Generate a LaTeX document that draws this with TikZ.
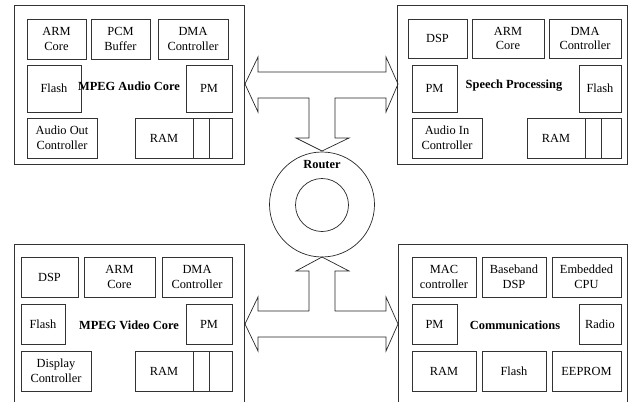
\documentclass[tikz,border=0pt]{standalone}
\usepackage{fontspec}
\setmainfont{Liberation Serif}
\begin{document}
\begin{tikzpicture}[x=1pt,y=-1pt,
  blk/.style={draw=black!80,line width=0.7pt,inner sep=0pt,align=center,
    font=\fontsize{12.4}{14.6}\selectfont},
  lbl/.style={inner sep=0pt,font=\fontsize{12.4}{14.6}\selectfont\bfseries},
  frame/.style={draw=black!80,line width=0.7pt},
  shp/.style={draw=black!85,line width=0.7pt,line join=miter}]
\newcommand\bx[6]{\node[blk,minimum width={(#4-#2)*1pt},minimum height={(#5-#3)*1pt}] (#1) at ({(#2+#4)/2},{(#3+#5)/2}) {#6};}
\useasboundingbox (0,0) rectangle (629,402);
% ---------- top left: MPEG Audio Core
\draw[frame] (14,5) rectangle (244,164);
\bx{tlarm}{27}{19}{86}{59}{ARM\\Core}
\bx{tlpcm}{91}{19}{150}{59}{PCM\\Buffer}
\bx{tldma}{158}{19}{228}{59}{DMA\\Controller}
\bx{tlflash}{27}{65}{81}{112}{Flash}
\bx{tlpm}{186}{65}{232}{112}{PM}
\node[lbl] (tllbl) at (129,86) {MPEG Audio Core};
\bx{tlaudio}{27}{118}{97}{158}{Audio Out\\Controller}
\bx{tlramA}{135}{118}{193}{158}{RAM}
\bx{tlramB}{193}{118}{209}{158}{}
\bx{tlramC}{209}{118}{232}{158}{}
% ---------- top right: Speech Processing
\draw[frame] (397,5) rectangle (627,164);
\bx{trdsp}{408}{19}{467}{58}{DSP}
\bx{trarm}{472}{19}{544}{58}{ARM\\Core}
\bx{trdma}{549}{19}{621}{58}{DMA\\Controller}
\bx{trpm}{412}{65}{457}{112}{PM}
\bx{trflash}{579}{65}{621}{112}{Flash}
\node[lbl] (trlbl) at (514,86) {Speech Processing};
\bx{traudio}{412}{118}{482}{158}{Audio In\\Controller}
\bx{trramA}{527}{118}{585}{158}{RAM}
\bx{trramB}{585}{118}{601}{158}{}
\bx{trramC}{601}{118}{621}{158}{}
% ---------- bottom left: MPEG Video Core
\draw[frame] (14,402) -- (14,244) -- (244,244) -- (244,402);
\bx{bldsp}{21}{257}{78}{297}{DSP}
\bx{blarm}{84}{257}{155}{297}{ARM\\Core}
\bx{bldma}{162}{257}{232}{297}{DMA\\Controller}
\bx{blflash}{21}{304}{65}{344}{Flash}
\bx{blpm}{186}{304}{232}{344}{PM}
\node[lbl] (bllbl) at (129,325) {MPEG Video Core};
\bx{bldisp}{21}{351}{91}{391}{Display\\Controller}
\bx{blramA}{135}{351}{193}{391}{RAM}
\bx{blramB}{193}{351}{209}{391}{}
\bx{blramC}{209}{351}{232}{391}{}
% ---------- bottom right: Communications
\draw[frame] (398,402) -- (398,244) -- (627,244) -- (627,402);
\bx{brmac}{412}{257}{476}{297}{MAC\\controller}
\bx{brbase}{482}{257}{546}{297}{Baseband\\DSP}
\bx{brcpu}{552}{257}{621}{297}{Embedded\\CPU}
\bx{brpm}{412}{304}{457}{344}{PM}
\bx{brradio}{579}{304}{621}{344}{Radio}
\node[lbl] (brlbl) at (515,325) {Communications};
\bx{brram}{412}{351}{476}{391}{RAM}
\bx{brflash}{482}{351}{546}{391}{Flash}
\bx{breeprom}{552}{351}{621}{391}{EEPROM}
% ---------- router
\node[draw=black!85,line width=0.7pt,circle,minimum size=105pt,inner sep=0pt] (router) at (322,204.5) {};
\node[draw=black!85,line width=0.7pt,circle,minimum size=53pt,inner sep=0pt] (routerin) at (322,205) {};
\node[lbl] (routerlbl) at (322,165) {Router};
% ---------- arrow shapes
\draw[shp] (245,84) -- (258,57) -- (258,72) -- (386,72) -- (386,57) -- (398,84)
  -- (386,112) -- (386,98) -- (335,98) -- (335,138) -- (349,138) -- (322,151)
  -- (296,138) -- (309,138) -- (309,98) -- (258,98) -- (258,112) -- cycle;
\draw[shp] (322,257) -- (349,271) -- (335,271) -- (335,311) -- (386,311) -- (386,297)
  -- (398,324) -- (386,351) -- (386,337) -- (258,337) -- (258,351) -- (245,324)
  -- (258,297) -- (258,311) -- (309,311) -- (309,271) -- (296,271) -- cycle;
\end{tikzpicture}
\end{document}
